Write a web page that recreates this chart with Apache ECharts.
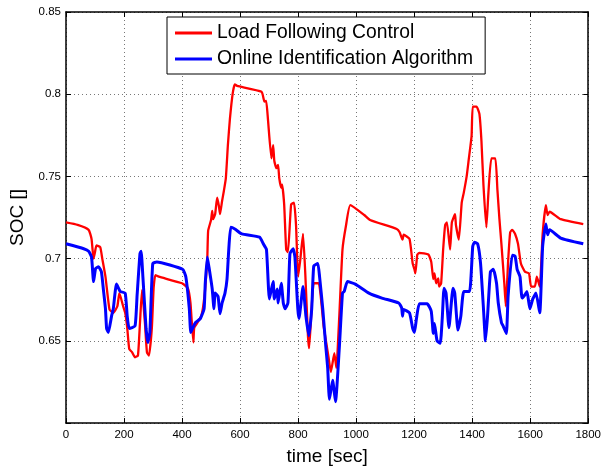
<!DOCTYPE html>
<html>
<head>
<meta charset="utf-8">
<script src="https://cdn.jsdelivr.net/npm/echarts@6/dist/echarts.min.js"></script>
<style>html,body{margin:0;padding:0;background:#fff;}#c{width:604px;height:471px;}</style>
</head>
<body>
<div id="c"></div>
<script>
const seriesNames = ['Load Following Control', 'Online Identification Algorithm'];
const xTicks = [0, 200, 400, 600, 800, 1000, 1200, 1400, 1600, 1800];
const yTicks = [0.6, 0.65, 0.7, 0.75, 0.8, 0.85];

const redTime = [0,40,78,88,95,100,105,118,125,136,150,163,177,184,197,204,211,218,228,238,248,255,262,272,279,286,296,302,308,320,400,420,429,439,442,453,466,473,480,487,490,500,504,507,514,521,527,531,538,544,551,558,565,575,582,590,674,684,690,696,708,714,718,725,731,735,742,745,752,759,765,776,786,793,800,808,817,825,834,838,845,854,871,888,905,913,925,932,942,953,965,980,1028,1048,1140,1150,1160,1164,1184,1195,1201,1204,1211,1218,1249,1259,1266,1270,1276,1283,1286,1293,1300,1307,1313,1324,1330,1341,1344,1354,1364,1371,1381,1388,1398,1402,1415,1425,1432,1439,1449,1456,1466,1480,1487,1494,1501,1511,1516,1524,1531,1538,1548,1558,1568,1582,1596,1603,1616,1623,1633,1643,1654,1660,1667,1705,1783];
const redSoc = [0.722,0.7205,0.7175,0.712,0.700,0.704,0.708,0.707,0.700,0.689,0.669,0.667,0.671,0.679,0.671,0.667,0.658,0.645,0.643,0.640,0.641,0.661,0.681,0.661,0.643,0.641,0.658,0.682,0.690,0.689,0.685,0.682,0.673,0.649,0.658,0.661,0.665,0.671,0.682,0.700,0.717,0.7235,0.729,0.724,0.727,0.737,0.732,0.727,0.735,0.741,0.749,0.769,0.785,0.801,0.806,0.805,0.8015,0.7955,0.796,0.785,0.761,0.769,0.7595,0.755,0.757,0.749,0.743,0.745,0.733,0.7055,0.704,0.733,0.734,0.720,0.689,0.700,0.715,0.690,0.653,0.6455,0.665,0.685,0.685,0.659,0.640,0.631,0.6425,0.6335,0.665,0.7055,0.720,0.7325,0.7265,0.7235,0.718,0.716,0.7115,0.7145,0.712,0.697,0.6935,0.691,0.7025,0.7035,0.7025,0.698,0.6875,0.691,0.685,0.688,0.683,0.685,0.7055,0.7205,0.722,0.7055,0.722,0.727,0.7205,0.7115,0.734,0.740,0.750,0.760,0.7745,0.7925,0.7925,0.788,0.7715,0.7445,0.719,0.740,0.761,0.761,0.742,0.724,0.7085,0.6845,0.671,0.6985,0.716,0.7175,0.715,0.709,0.697,0.692,0.691,0.683,0.683,0.689,0.683,0.715,0.7325,0.7265,0.7285,0.724,0.721];

const blueTime = [0,61,78,88,95,102,112,122,129,136,140,146,157,163,174,187,204,211,218,238,245,255,259,265,276,282,289,299,313,402,413,425,430,436,446,463,476,480,487,494,504,510,514,524,531,538,548,555,561,568,582,606,667,680,691,701,714,718,728,731,742,749,755,765,772,783,789,799,803,817,827,837,847,854,868,874,885,895,902,908,919,929,942,953,959,970,997,1044,1089,1147,1157,1160,1164,1184,1195,1201,1208,1218,1245,1259,1266,1270,1279,1290,1297,1303,1310,1320,1334,1340,1351,1361,1371,1391,1402,1408,1419,1429,1439,1446,1453,1463,1473,1484,1490,1501,1507,1518,1524,1538,1548,1555,1565,1572,1582,1589,1599,1609,1620,1633,1643,1654,1660,1667,1705,1783];
const blueSoc = [0.709,0.706,0.7045,0.701,0.686,0.694,0.695,0.692,0.681,0.6695,0.6575,0.655,0.665,0.6695,0.6845,0.680,0.679,0.665,0.6575,0.659,0.6775,0.703,0.7045,0.689,0.6575,0.649,0.655,0.697,0.698,0.6935,0.689,0.6695,0.655,0.6575,0.661,0.6635,0.6695,0.685,0.701,0.6935,0.6815,0.6695,0.679,0.677,0.6665,0.673,0.679,0.6875,0.7055,0.719,0.718,0.715,0.713,0.709,0.7055,0.6755,0.686,0.6755,0.6815,0.673,0.685,0.673,0.6695,0.673,0.703,0.706,0.701,0.6695,0.6635,0.683,0.665,0.653,0.6695,0.6955,0.697,0.689,0.6695,0.6475,0.6335,0.6145,0.626,0.613,0.6455,0.679,0.680,0.686,0.6845,0.679,0.676,0.673,0.670,0.665,0.669,0.667,0.6575,0.655,0.6635,0.6725,0.6725,0.668,0.6545,0.6605,0.650,0.6485,0.664,0.682,0.679,0.658,0.682,0.679,0.6565,0.665,0.680,0.680,0.7075,0.710,0.709,0.697,0.6695,0.650,0.665,0.692,0.6935,0.685,0.673,0.661,0.659,0.6545,0.6775,0.702,0.7015,0.6935,0.689,0.676,0.678,0.680,0.6695,0.6755,0.679,0.667,0.7075,0.721,0.7145,0.7175,0.7125,0.709];

const FONT = '"Liberation Sans", Arial, Helvetica, sans-serif';
const zip = (a, b) => a.map((v, i) => [v, b[i]]);

const chart = echarts.init(document.getElementById('c'), null, {renderer: 'canvas'});
const grid = {left: 60, right: 15, top: 12, bottom: 42};
const xMin = xTicks[0], xMax = xTicks[xTicks.length - 1], xInt = xTicks[1] - xTicks[0];
const yMin = yTicks[0], yMax = yTicks[yTicks.length - 1], yInt = 0.05;

chart.setOption({
  animation: false,
  backgroundColor: '#fff',
  grid: grid,
  legend: {
    left: 167, top: 17,
    orient: 'vertical',
    data: seriesNames,
    icon: 'rect',
    itemWidth: 37, itemHeight: 3,
    itemGap: 6,
    padding: [6, 12, 5, 8],
    backgroundColor: '#fff',
    borderColor: '#000', borderWidth: 1,
    textStyle: {fontFamily: FONT, fontSize: 19.3, color: '#000', lineHeight: 20}
  },
  xAxis: [{
    type: 'value', min: xMin, max: xMax, interval: xInt,
    name: 'time [sec]', nameLocation: 'middle', nameGap: 24,
    nameTextStyle: {fontFamily: FONT, fontSize: 19, color: '#000'},
    axisLine: {show: true, onZero: false, lineStyle: {color: '#000', width: 1.5}},
    axisTick: {show: true, inside: true, length: 5, lineStyle: {color: '#000'}},
    axisLabel: {fontFamily: FONT, fontSize: 11.5, color: '#000', margin: 6,
      formatter: v => String(Math.round(v))},
    splitLine: {show: true, lineStyle: {color: '#777', type: [1, 3], width: 1}}
  }, {
    type: 'value', position: 'top', min: xMin, max: xMax, interval: xInt,
    axisLine: {show: true, onZero: false, lineStyle: {color: '#000', width: 1.5}},
    axisTick: {show: true, inside: true, length: 5, lineStyle: {color: '#000'}},
    axisLabel: {show: false}, splitLine: {show: false}
  }],
  yAxis: [{
    type: 'value', min: yMin, max: yMax, interval: yInt,
    name: 'SOC []', nameLocation: 'middle', nameGap: 39,
    nameTextStyle: {fontFamily: FONT, fontSize: 19, color: '#000'},
    axisLine: {show: true, onZero: false, lineStyle: {color: '#000', width: 1.5}},
    axisTick: {show: true, inside: true, length: 5, lineStyle: {color: '#000'}},
    axisLabel: {fontFamily: FONT, fontSize: 11.5, color: '#000', margin: 5,
      formatter: v => v < yMin + 0.001 ? '' : String(+v.toFixed(2))},
    splitLine: {show: true, lineStyle: {color: '#777', type: [1, 3], width: 1}}
  }, {
    type: 'value', position: 'right', min: yMin, max: yMax, interval: yInt,
    axisLine: {show: true, onZero: false, lineStyle: {color: '#000', width: 1.5}},
    axisTick: {show: true, inside: true, length: 5, lineStyle: {color: '#000'}},
    axisLabel: {show: false}, splitLine: {show: false}
  }],
  series: [{
    name: seriesNames[0], type: 'line', data: zip(redTime, redSoc),
    showSymbol: false, symbol: 'none', smooth: 0.15,
    lineStyle: {color: '#ff0000', width: 2.3}, itemStyle: {color: '#ff0000'}
  }, {
    name: seriesNames[1], type: 'line', data: zip(blueTime, blueSoc),
    showSymbol: false, symbol: 'none', smooth: 0.15,
    lineStyle: {color: '#0000ff', width: 3}, itemStyle: {color: '#0000ff'}
  }]
});
</script>
</body>
</html>
